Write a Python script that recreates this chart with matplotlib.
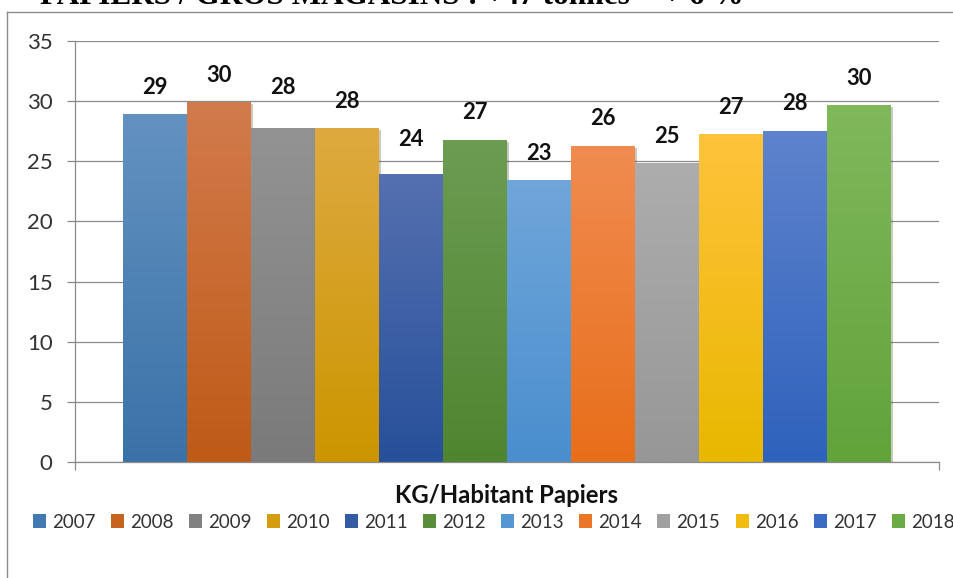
import numpy as np
import matplotlib
matplotlib.use("Agg")
import matplotlib.pyplot as plt
from matplotlib.colors import LinearSegmentedColormap
from matplotlib.lines import Line2D
from matplotlib.patches import Patch
import matplotlib.patheffects as pe

# ---- data ----
years = ["2007", "2008", "2009", "2010", "2011", "2012",
         "2013", "2014", "2015", "2016", "2017", "2018"]
values = [28.9, 29.95, 27.75, 27.75, 23.95, 26.8,
          23.45, 26.3, 24.85, 27.25, 27.55, 29.7]
yticks = [0, 5, 10, 15, 20, 25, 30, 35]
axis_title = "KG/Habitant Papiers"
top_title = "PAPIERS / GROS MAGASINS : +47 tonnes = + 6 %"

# ---- style ----
top_colors = ["#6392C0", "#D27B4C", "#939393", "#DEAA40", "#5570B0", "#6C9C52",
              "#70A6DA", "#F08C50", "#ADADAD", "#FFC33C", "#5F83CD", "#80B85C"]
bot_colors = ["#3A72A8", "#BF5A17", "#7A7A7A", "#CC9500", "#27509A", "#508530",
              "#4A8ECE", "#E86E1A", "#979797", "#E8B800", "#2E62BC", "#62A33A"]
leg_colors = ["#4179B0", "#C5631F", "#818181", "#D49D10", "#345CA2", "#588D39",
              "#5597D3", "#EB7628", "#A0A0A0", "#F0BC10", "#3A6CC3", "#6AAB43"]
label_offsets_px = [27, 26.5, 41, 27, 34, 27.5, 26, 27, 26.5, 27, 27, 26.5]

W, H, DPI = 954, 578, 100
fig = plt.figure(figsize=(W / DPI, H / DPI), dpi=DPI)
fig.patch.set_facecolor("white")
PX = 72.0 / DPI  # points per pixel

left_px, right_px, top_px, bot_px = 75, 939, 41, 462
ax = fig.add_axes([left_px / W, 1 - bot_px / H,
                   (right_px - left_px) / W, (bot_px - top_px) / H])

bar_w_px = 63.95
half = (right_px - left_px) / bar_w_px / 2
n = len(values)
xpos = np.arange(n) - (n - 1) / 2

grid_c = "#8A8A8A"
bars = ax.bar(xpos, values, width=1.0, color=leg_colors, edgecolor="none",
              zorder=3)
for b, ct, cb in zip(bars, top_colors, bot_colors):
    b.set_path_effects([pe.SimplePatchShadow(offset=(1.5, -1.5), alpha=0.25),
                        pe.Normal()])
    x0, w, h = b.get_x(), b.get_width(), b.get_height()
    cmap = LinearSegmentedColormap.from_list("g", [cb, ct])
    grad = np.linspace(0, 1, 256).reshape(-1, 1)
    im = ax.imshow(grad, extent=[x0, x0 + w, 0, h], origin="lower",
                   aspect="auto", cmap=cmap, zorder=4, interpolation="bilinear")
    im.set_clip_path(b)

lato = ["Lato", "DejaVu Sans"]
for b, v, off in zip(bars, values, label_offsets_px):
    ax.annotate(f"{v:.0f}", (b.get_x() + b.get_width() / 2, b.get_height()),
                xytext=(0, off * PX), textcoords="offset points",
                ha="center", va="center", fontsize=15.8, fontweight="bold",
                family=lato, color="#111111", zorder=6)

ax.set_xlim(-half, half)
ax.set_ylim(0, 35)
ax.set_yticks(yticks)
ax.set_yticklabels([str(t) for t in yticks], family=lato, fontsize=16,
                   color="#333333")
ax.yaxis.grid(True, color=grid_c, linewidth=0.9, zorder=0)
ax.set_axisbelow(True)
ax.tick_params(axis="y", length=8 * PX, width=0.9, color=grid_c,
               pad=14.5 * PX)
ax.set_xticks([-half, half])
ax.set_xticklabels(["", ""])
ax.tick_params(axis="x", length=8 * PX, width=0.9, color=grid_c, direction="out")
for s in ["top", "right"]:
    ax.spines[s].set_visible(False)
for s in ["left", "bottom"]:
    ax.spines[s].set_color(grid_c)
    ax.spines[s].set_linewidth(0.9)
ax.spines["bottom"].set_zorder(5)

# axis title
fig.text(506.7 / W, 1 - 503.3 / H, axis_title, ha="center", va="baseline",
         fontsize=17.2, fontweight="bold", family=lato, color="#111111")

# legend
handles = [Patch(facecolor=c, edgecolor="none") for c in leg_colors]
fig.legend(handles, years, loc="center", bbox_to_anchor=(493.5 / W, 1 - 522 / H),
           ncol=n, frameon=False, prop={"family": "Lato", "size": 13.5},
           handlelength=0.7, handleheight=0.7, handletextpad=0.32,
           columnspacing=0.82, borderpad=0, borderaxespad=0,
           labelcolor="#333333")

# top title (cut off at the image top, as in the source)
fig.text(40 / W, 1 - 4.3 / H, top_title, ha="left", va="baseline",
         fontsize=22.5, fontweight="bold", family=["Liberation Serif", "DejaVu Serif"],
         color="black")

# outer frame of chart area
fig.add_artist(Line2D([7.5 / W, 7.5 / W], [0, 1 - 11.7 / H],
                      transform=fig.transFigure, color="#8C8C8C", linewidth=1.0))
fig.add_artist(Line2D([7.5 / W, 1.0], [1 - 11.7 / H, 1 - 11.7 / H],
                      transform=fig.transFigure, color="#8C8C8C", linewidth=1.0))

fig.savefig("out.png", dpi=DPI, facecolor="white")
